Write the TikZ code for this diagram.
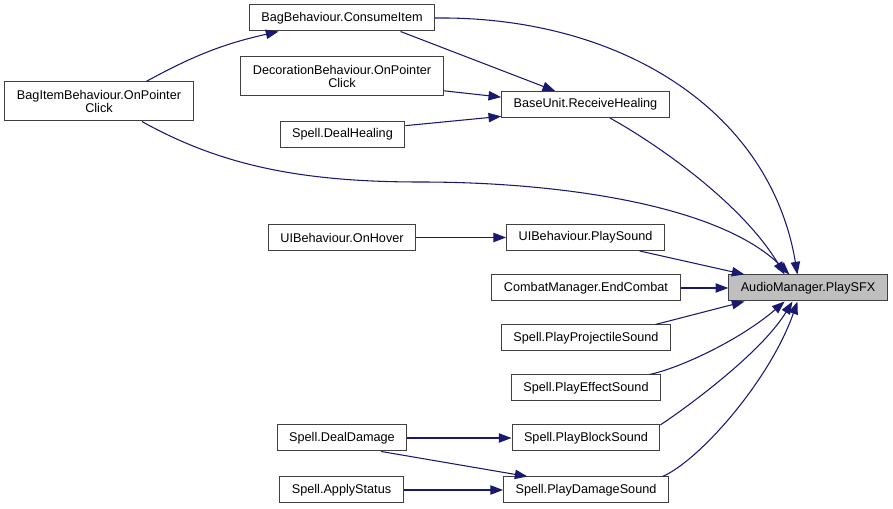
\documentclass[tikz,border=0pt]{standalone}
\usepackage{fontspec}
\setmainfont{Liberation Sans}
\usepackage{tikz}
\usetikzlibrary{arrows.meta}

\definecolor{edgeblue}{HTML}{191970}
\definecolor{boxline}{HTML}{404040}
\definecolor{boxfill}{HTML}{BFBFBF}

\begin{document}
\begin{tikzpicture}[x=0.75pt, y=0.75pt,
    func/.style={draw=boxline, fill=white, line width=0.75pt, font=\fontsize{9.5}{10}\selectfont,
      inner xsep=9pt, inner ysep=2pt, minimum height=19.5pt, align=center},
    tall/.style={minimum height=29.25pt},
    focus/.style={fill=boxfill},
    calls/.style={draw=edgeblue, line width=0.8pt, -{Triangle[length=9.5pt, width=7pt]}}]
      \useasboundingbox (0, 0) rectangle (893, -509);
      % callers, left to right
      \node[func, tall] (bagitem) at (99, -101.5) {BagItemBehaviour.OnPointer\\Click};
      \node[func] (consume) at (342, -18) {BagBehaviour.ConsumeItem};
      \node[func, tall] (deco) at (342, -76.5) {DecorationBehaviour.OnPointer\\Click};
      \node[func] (dealheal) at (342.5, -134.5) {Spell.DealHealing};
      \node[func] (onhover) at (342, -237.5) {UIBehaviour.OnHover};
      \node[func] (dealdmg) at (342, -438) {Spell.DealDamage};
      \node[func] (applystatus) at (341.5, -490) {Spell.ApplyStatus};
      \node[func] (receive) at (585.5, -104.5) {BaseUnit.ReceiveHealing};
      \node[func] (playsound) at (585.5, -237.5) {UIBehaviour.PlaySound};
      \node[func] (endcombat) at (586, -288) {CombatManager.EndCombat};
      \node[func] (projectile) at (586, -338) {Spell.PlayProjectileSound};
      \node[func] (effect) at (586, -388) {Spell.PlayEffectSound};
      \node[func] (block) at (586, -438) {Spell.PlayBlockSound};
      \node[func] (damage) at (586, -490) {Spell.PlayDamageSound};
      \node[func, focus] (sfx) at (808, -288) {AudioManager.PlaySFX};
      % calls
      \draw[calls] (bagitem.23) to[bend left=8] (consume.-168);
      \draw[calls] (consume.-13) -- (receive.156);
      \draw[calls] (deco.-8) -- (receive.175);
      \draw[calls] (dealheal.8) -- (receive.-172);
      \draw[calls] (onhover) -- (playsound);
      \draw[calls] (dealdmg) -- (block);
      \draw[calls] (dealdmg.-19) -- (damage.167);
      \draw[calls] (applystatus) -- (damage);
      \draw[calls] (consume.east) .. controls (620, -16) and (770, -110) .. (sfx.128);
      \draw[calls] (bagitem.-25) .. controls (220, -165) and (300, -182) .. (420, -182)
                   .. controls (560, -182) and (720, -205) .. (sfx.144);
      \draw[calls] (receive.-29) .. controls (650, -140) and (740, -200) .. (sfx.150);
      \draw[calls] (playsound.-14) -- (sfx.168);
      \draw[calls] (endcombat) -- (sfx);
      \draw[calls] (projectile.11) -- (sfx.-168);
      \draw[calls] (effect.12) .. controls (680, -368) and (740, -340) .. (sfx.-150);
      \draw[calls] (block.10) .. controls (680, -412) and (760, -355) .. (sfx.-139);
      \draw[calls] (damage.10) .. controls (700, -460) and (770, -380) .. (sfx.-128);
    \end{tikzpicture}
\end{document}
